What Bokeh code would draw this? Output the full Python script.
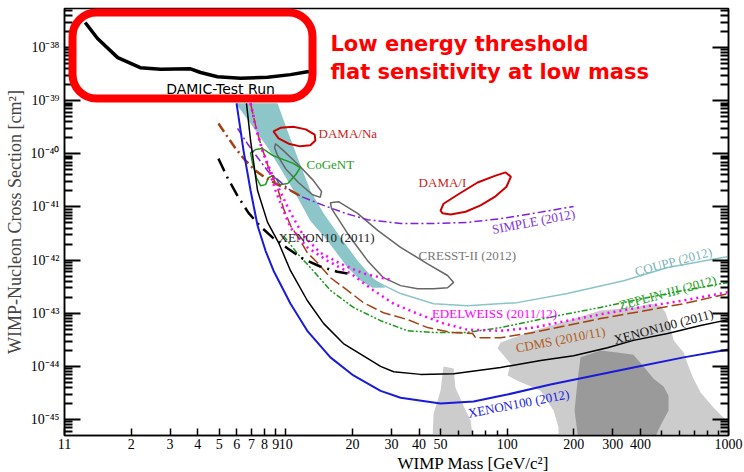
import numpy as np
from bokeh.plotting import figure
from bokeh.models import Range1d, FixedTicker, LogAxis, Title, CustomJSTickFormatter
from bokeh.core.properties import value
from bokeh.embed import file_html
from bokeh.resources import INLINE

# ---------------- data: WIMP mass [GeV/c^2], log10(cross section [cm^2]) ----------------
damic_m = [1.24, 1.41, 1.74, 2.2, 2.72, 3.71, 4.12, 4.91, 6.24, 8.27, 10.5, 12.7]
damic_ls = [-37.53, -37.83, -38.19, -38.38, -38.41, -38.40, -38.47, -38.55, -38.58, -38.56, -38.51, -38.45]

xe100_12_m = [5.99, 6.44, 6.93, 7.45, 8.09, 8.80, 10.5, 12.5, 15.9, 20.2, 26.8, 33.0, 50.0, 70.5, 100, 157, 372, 627, 1000]
xe100_12_ls = [-39.05, -39.94, -40.69, -41.35, -41.82, -42.20, -42.82, -43.33, -43.83, -44.17, -44.46, -44.59,
               -44.70, -44.66, -44.53, -44.34, -44.02, -43.83, -43.68]

xe100_11_m = [6.64, 6.93, 7.45, 8.27, 9.27, 10.5, 12.5, 14.8, 18.2, 23.4, 26.8, 30.7, 40.6, 57.3, 93.4, 141.6,
              199.6, 284, 372, 531, 748, 1000]
xe100_11_ls = [-39.05, -39.75, -40.69, -41.29, -41.67, -42.20, -42.76, -43.19, -43.57, -43.85, -44.00, -44.10,
               -44.15, -44.14, -44.02, -43.89, -43.80, -43.65, -43.51, -43.38, -43.23, -43.12]

xe10_m = [4.96, 5.45, 6.05, 6.78, 7.69, 8.80, 10.2, 11.9, 14.3, 17.1, 19.0]
xe10_ls = [-40.09, -40.45, -40.79, -41.11, -41.37, -41.59, -41.78, -41.97, -42.12, -42.22, -42.25]

coupp_m = [18.6, 21.8, 26.0, 33.0, 46.5, 66.2, 111, 187, 336, 531, 1000]
coupp_ls = [-41.91, -42.22, -42.42, -42.63, -42.82, -42.86, -42.80, -42.63, -42.39, -42.14, -41.93]

band_m = [5.93, 9.17, 10.28, 11.3, 12.9, 14.8, 17.7, 21.1, 24.9, 28.2, 24.6, 21.8, 19.0, 15.4, 12.9, 11.3,
          9.76, 8.27, 6.93]
band_ls = [-39.05, -39.05, -39.62, -40.07, -40.69, -41.12, -41.58, -42.01, -42.35, -42.52, -42.52, -42.39,
           -42.14, -41.63, -41.26, -40.82, -40.37, -39.88, -39.43]

zeplin_m = [9.76, 11.3, 13.3, 15.9, 20.2, 26.8, 35.5, 46.5, 66.2, 93.4, 131.6, 187, 264, 372, 627, 1000]
zeplin_ls = [-41.54, -41.88, -42.20, -42.57, -42.89, -43.14, -43.33, -43.36, -43.36, -43.27, -43.14, -43.01,
             -42.89, -42.76, -42.57, -42.42]

edw1_m = [6.93, 7.37, 7.85, 8.53, 9.27, 10.5, 12.0, 14.3, 17.7, 22.4, 29.7]
edw1_ls = [-39.05, -39.56, -39.94, -40.32, -40.64, -41.11, -41.54, -41.86, -42.07, -42.25, -42.37]

edw2_m = [6.93, 7.37, 7.85, 8.35, 8.98, 9.76, 10.5, 12.5, 15.4, 19.6, 24.9, 30.7, 39.4, 51.6, 66.2, 93.4,
          131.6, 187, 264, 372, 627, 1000]
edw2_ls = [-39.05, -39.56, -39.94, -40.28, -40.69, -41.07, -41.39, -41.76, -42.01, -42.25, -42.57, -42.82,
           -43.01, -43.19, -43.31, -43.33, -43.27, -43.14, -43.02, -42.91, -42.76, -42.60]

cdms_m = [6.93, 7.30, 7.69, 8.35, 9.17, 9.76, 10.5, 11.6, 12.5, 13.9, 15.9, 19.0, 22.4, 27.6, 35.5, 43.7,
          55.5, 69.8, 72.0, 93.4, 131.6, 187, 264, 372, 627, 1000]
cdms_ls = [-39.05, -39.47, -39.81, -40.26, -40.64, -41.03, -41.35, -41.63, -41.86, -42.05, -42.33, -42.57,
           -42.80, -42.99, -43.12, -43.27, -43.36, -43.38, -43.46, -43.46, -43.36, -43.23, -43.10, -42.99,
           -42.82, -42.63]

cdms_lt_m = [4.96, 5.45, 5.93, 6.58, 7.30, 8.09, 9.17, 10.5, 11.9]
cdms_lt_ls = [-39.43, -39.68, -39.90, -40.13, -40.32, -40.45, -40.58, -40.69, -40.82]

simple_m = [6.05, 6.71, 7.45, 8.27, 9.27, 10.5, 12.0, 14.8, 18.6, 23.4, 33.0, 46.5, 66.2, 93.4, 131.6, 199.6]
simple_ls = [-39.52, -39.81, -40.07, -40.32, -40.50, -40.69, -40.82, -40.97, -41.12, -41.24, -41.31, -41.31,
             -41.29, -41.22, -41.12, -40.99]

cogent_m = [6.93, 7.30, 7.85, 8.71, 9.76, 10.8, 11.6, 11.1, 10.2, 9.37, 9.08, 8.71, 8.35, 8.09, 7.69, 7.37, 7.07]
cogent_ls = [-39.98, -39.92, -39.90, -40.03, -40.11, -40.18, -40.26, -40.39, -40.56, -40.58, -40.48, -40.41,
             -40.45, -40.58, -40.60, -40.45, -40.18]

dama_na_m = [8.80, 9.46, 10.8, 12.3, 13.5, 13.6, 12.9, 11.6, 10.3, 9.27]
dama_na_ls = [-39.58, -39.51, -39.49, -39.54, -39.64, -39.75, -39.84, -39.86, -39.81, -39.71]

dama_i_m = [50.0, 51.6, 59.7, 73.5, 88.6, 98.4, 104, 99.3, 88.6, 75.8, 64.9, 55.5, 51.1]
dama_i_ls = [-41.07, -40.94, -40.77, -40.54, -40.41, -40.35, -40.43, -40.62, -40.80, -40.97, -41.09, -41.14, -41.12]

cresst1_m = [8.99, 9.76, 11.6, 13.3, 14.5, 14.3, 13.2, 11.4, 9.97, 9.17, 8.89]
cresst1_ls = [-39.81, -39.94, -40.24, -40.50, -40.71, -40.82, -40.77, -40.54, -40.28, -40.03, -39.88]

cresst2_m = [15.9, 17.3, 21.1, 26.0, 33.0, 43.7, 53.8, 57.3, 53.8, 46.5, 39.4, 33.0, 27.6, 23.4, 19.6, 17.1, 16.1]
cresst2_ls = [-40.92, -40.90, -41.12, -41.44, -41.76, -42.07, -42.29, -42.42, -42.52, -42.54, -42.54, -42.48,
              -42.33, -42.01, -41.58, -41.20, -41.03]

susy_light_m = [93.4, 106.9, 131.6, 187, 264, 372, 444, 493, 520, 547, 565, 627, 653, 695, 748, 857, 1000, 1000,
                170.6, 170.6, 162, 141.6, 111.4, 100.4, 103.6, 90.5]
susy_light_ls = [-43.55, -43.46, -43.33, -43.14, -42.95, -42.89, -42.82, -42.86, -42.99, -43.27, -43.51, -43.74,
                 -43.95, -44.23, -44.49, -44.78, -45.06, -45.40, -45.40, -45.15, -44.83, -44.46, -44.27, -44.17,
                 -43.95, -43.66]

susy_tower_m = [51.6, 57.3, 58.4, 63.5, 68.3, 70.5, 46.0, 46.5, 50.0, 51.1]
susy_tower_ls = [-44.00, -44.04, -44.40, -44.74, -45.02, -45.40, -45.40, -44.89, -44.46, -44.14]

susy_dark_m = [214.6, 264, 315, 372, 413, 459, 509, 536, 536, 493, 459, 210, 201.6, 208]
susy_dark_ls = [-43.83, -43.70, -43.74, -43.78, -44.00, -44.23, -44.38, -44.55, -44.83, -45.11, -45.40, -45.40,
                -44.83, -44.27]

x_major = [1, 2, 3, 4, 5, 6, 7, 8, 9, 10, 20, 30, 40, 50, 100, 200, 300, 400, 1000]
x_labels = ["11", "2", "3", "4", "5", "6", "7", "8", "9", "10", "20", "30", "40", "50", "100", "200", "300", "400", "1000"]
x_minor = [60, 70, 80, 90, 500, 600, 700, 800, 900]
y_exps = [-45, -44, -43, -42, -41, -40, -39, -38]
y_labels = ["10⁻⁴⁵", "10⁻⁴⁴", "10⁻⁴³", "10⁻⁴²", "10⁻⁴¹", "10⁻⁴⁰", "10⁻³⁹", "10⁻³⁸"]


def sig(ls):
    return [10.0 ** v for v in ls]


SERIF = "Liberation Serif"
SANS = "DejaVu Sans"

p = figure(width=744, height=472, x_axis_type="log", y_axis_type="log",
           x_range=Range1d(1, 1000), y_range=Range1d(10 ** -45.30, 10 ** -37.266),
           output_backend="svg", toolbar_location=None,
           min_border_left=64, min_border_right=16, min_border_top=8, min_border_bottom=0)
p.grid.visible = False
p.outline_line_color = "black"
p.outline_line_width = 1.5
p.background_fill_color = "white"
p.border_fill_color = "white"

# ticks
y_major = [10.0 ** e for e in y_exps]
y_minor = [k * 10.0 ** e for e in range(-46, -37) for k in range(2, 10)]
yt = FixedTicker(ticks=y_major, minor_ticks=y_minor)
xt = FixedTicker(ticks=x_major, minor_ticks=x_minor)

for ax in p.xaxis:
    ax.ticker = xt
    ax.major_label_overrides = dict(zip(x_major, x_labels))
    ax.major_tick_in = 7
    ax.major_tick_out = 0
    ax.minor_tick_in = 5
    ax.minor_tick_out = 0
    ax.major_tick_line_width = 1.5
    ax.minor_tick_line_width = 1.5
    ax.axis_line_width = 1.5
    ax.major_label_text_font = SERIF
    ax.major_label_text_font_size = "14px"
    ax.major_label_text_color = "black"
    ax.major_label_standoff = 3

for ax in p.yaxis:
    ax.ticker = yt
    ax.major_label_overrides = dict(zip(y_major, y_labels))
    ax.major_tick_in = 16
    ax.major_tick_out = 0
    ax.minor_tick_in = 8
    ax.minor_tick_out = 0
    ax.major_tick_line_width = 2
    ax.minor_tick_line_width = 2
    ax.axis_line_width = 1.5
    ax.major_label_text_font = SERIF
    ax.major_label_text_font_size = "14px"
    ax.major_label_text_color = "black"
    ax.major_label_standoff = 5
    ax.axis_label = "WIMP-Nucleon Cross Section [cm²]"
    ax.axis_label_text_font = SERIF
    ax.axis_label_text_font_size = "18px"
    ax.axis_label_text_font_style = "normal"
    ax.axis_label_standoff = 3

rax = LogAxis(ticker=yt, major_tick_in=16, major_tick_out=0, minor_tick_in=8, minor_tick_out=0,
              major_tick_line_width=2, minor_tick_line_width=2, axis_line_width=1.5,
              formatter=CustomJSTickFormatter(code="return ''"),
              major_label_text_font_size="8px", major_label_standoff=0)
p.add_layout(rax, "right")

# x-axis title, placed like the original (right of centre)
xtitle = Title(text="WIMP Mass [GeV/c²]", align="left", offset=333, standoff=0,
               text_font=SERIF, text_font_size="17px", text_font_style="normal", text_color="black")
p.add_layout(xtitle, "below")

# shaded regions
p.patch(susy_light_m, sig(susy_light_ls), fill_color="#cccccc", line_color=None)
p.patch(susy_tower_m, sig(susy_tower_ls), fill_color="#cccccc", line_color=None)
p.patch(susy_dark_m, sig(susy_dark_ls), fill_color="#9a9a9a", line_color=None)
p.patch(band_m, sig(band_ls), fill_color="#8cc6c8", line_color=None)

# contours
p.patch(dama_na_m, sig(dama_na_ls), fill_color=None, line_color="#cc0000", line_width=2)
p.patch(dama_i_m, sig(dama_i_ls), fill_color=None, line_color="#cc0000", line_width=2)
p.patch(cresst1_m, sig(cresst1_ls), fill_color=None, line_color="#666666", line_width=1.5)
p.patch(cresst2_m, sig(cresst2_ls), fill_color=None, line_color="#666666", line_width=1.5)
p.patch(cogent_m, sig(cogent_ls), fill_color=None, line_color="#1a9a1a", line_width=1.5)

# exclusion limits
p.line(coupp_m, sig(coupp_ls), line_color="#8bc4c8", line_width=1.5)
p.line(simple_m, sig(simple_ls), line_color="#7f1fdf", line_width=1.5, line_dash="8 3 2 3")
p.line(zeplin_m, sig(zeplin_ls), line_color="#1a9a1a", line_width=1.5, line_dash="6 2 2 2 2 2")
p.line(cdms_m, sig(cdms_ls), line_color="#a5410e", line_width=1.5, line_dash="11 4")
p.line(cdms_lt_m, sig(cdms_lt_ls), line_color="#a5410e", line_width=2.5, line_dash="10 4 2 4")
p.line(edw1_m, sig(edw1_ls), line_color="#ff00ff", line_width=2.5, line_dash="2 4")
p.line(edw2_m, sig(edw2_ls), line_color="#ff00ff", line_width=2.5, line_dash="2 4")
p.line(xe10_m, sig(xe10_ls), line_color="black", line_width=2.5, line_dash="14 6 2 6")
p.line(xe100_11_m, sig(xe100_11_ls), line_color="black", line_width=1.5)
p.line(xe100_12_m, sig(xe100_12_ls), line_color="#1a1adb", line_width=2)

# curve labels
def lab(x, ls, txt, color, angle=0.0, align="left"):
    p.text(x=[x], y=[10.0 ** ls], text=[txt], text_color=color, angle=np.deg2rad(angle),
           text_font=value(SERIF), text_font_size="13px", text_align=align, text_baseline="middle")

lab(14.06, -39.62, "DAMA/Na", "#cc2222")
lab(12.4, -40.20, "CoGeNT", "#22a022")
lab(39.8, -40.54, "DAMA/I", "#cc2222")
lab(9.27, -41.575, "XENON10 (2011)", "#222222")
lab(39.8, -41.914, "CRESST-II (2012)", "#777777")
lab(131.6, -41.274, "SIMPLE (2012)", "#8033dd", 11, "center")
lab(565, -42.027, "COUPP (2012)", "#79b3b8", 15, "center")
lab(531, -42.61, "ZEPLIN-III (2012)", "#22a022", 15, "center")
lab(87.7, -43.006, "EDELWEISS (2011/12)", "#ff00ff", 0, "center")
lab(174, -43.495, "CDMS (2010/11)", "#b05a20", 11, "center")
lab(509, -43.25, "XENON100 (2011)", "#111111", 15, "center")
lab(112.6, -44.699, "XENON100 (2012)", "#1a1ae6", 11, "center")

# DAMIC highlight box (rounded, white-filled, drawn over the other curves)
p.quad(left=[1.087], right=[13.2], bottom=[10 ** -38.96], top=[10 ** -37.341],
       fill_color="white", line_color="#ff0000", line_width=8, border_radius=24, level="overlay")
p.line(damic_m, sig(damic_ls), line_color="black", line_width=3.5, level="overlay")
p.text(x=[5.07], y=[10 ** -38.79], text=["DAMIC-Test Run"], text_font=value(SANS), text_font_size="14px",
       text_align="center", text_baseline="middle", text_color="black", level="overlay")

p.text(x=[15.9, 15.9], y=[10 ** -37.925, 10 ** -38.452],
       text=["Low energy threshold", "flat sensitivity at low mass"],
       text_font=value(SANS), text_font_size="21px", text_font_style="bold", text_color="#ff0000",
       text_align="left", text_baseline="middle", level="overlay")

open("out.html", "w").write(file_html(p, INLINE))
